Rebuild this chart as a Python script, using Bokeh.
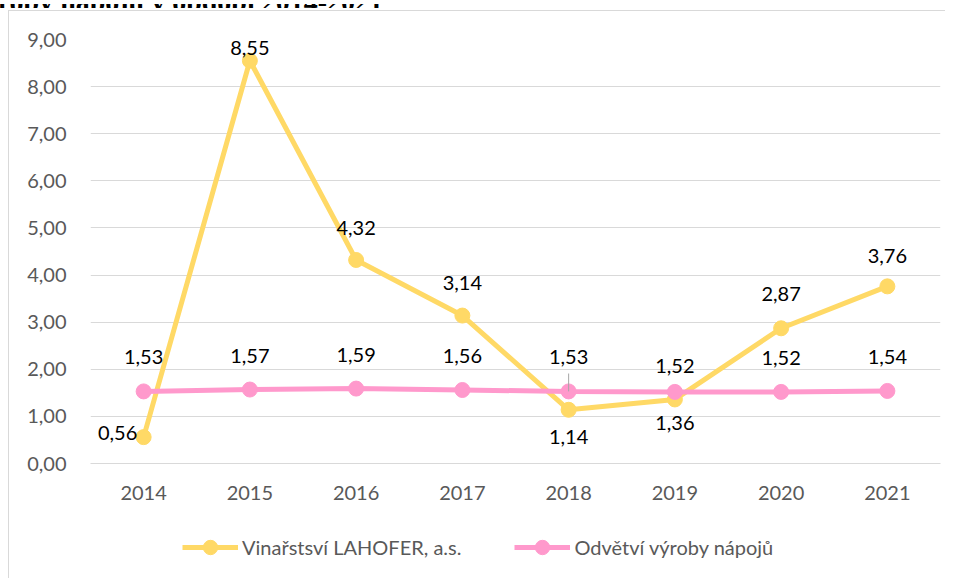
from bokeh.plotting import figure
from bokeh.layouts import column
from bokeh.models import (ColumnDataSource, FactorRange, Range1d, CustomJSTickFormatter,
                          FixedTicker, Legend, LegendItem, Div)
from bokeh.core.properties import value
from bokeh.embed import file_html
from bokeh.resources import INLINE

years = ["2014", "2015", "2016", "2017", "2018", "2019", "2020", "2021"]
lahofer = [0.56, 8.55, 4.32, 3.14, 1.14, 1.36, 2.87, 3.76]
odvetvi = [1.53, 1.57, 1.59, 1.56, 1.53, 1.52, 1.52, 1.54]
name_lahofer = "Vinařstsví LAHOFER, a.s."
name_odvetvi = "Odvětví výroby nápojů"
title_text = "výroby nápojů v období 2014-2021"
y_ticks = [0, 1, 2, 3, 4, 5, 6, 7, 8, 9]

YELLOW = "#FFD966"
PINK = "#FF99CC"
FONT = "Lato"
BORDER = "1px solid #D9D9D9"

def fmt(v):
    return f"{v:.2f}".replace(".", ",")

# label offsets (screen px): negative = up
lah_dx = [-26, 0, 0, 0, 0, 0, 0, 0]
lah_dy = [-4, -13, -32, -33, 27, 24, -34, -30]
odv_dx = [0, 0, 0, 0, 0, 0, 0, 0]
odv_dy = [-34, -34, -34, -34, -34, -26, -34, -34]

src_l = ColumnDataSource(dict(x=years, y=lahofer, t=[fmt(v) for v in lahofer], dx=lah_dx, dy=lah_dy))
src_o = ColumnDataSource(dict(x=years, y=odvetvi, t=[fmt(v) for v in odvetvi], dx=odv_dx, dy=odv_dy))

# clipped document title above the chart box (only its lower edge is visible)
title_div = Div(
    text=('<div style="position:relative;width:383px;height:8px;overflow:hidden;">'
          '<span style="position:absolute;right:0;top:-16px;white-space:nowrap;'
          'font-family:\'Liberation Serif\';font-weight:bold;font-size:28px;'
          'line-height:28px;color:black;">' + title_text + '</span></div>'),
    width=400, height=8, margin=0, styles={"overflow": "hidden"})

# ---- main chart ----
p = figure(frame_width=849, frame_height=423, x_range=FactorRange(*years, range_padding=0),
           y_range=Range1d(0, 9), output_backend="svg", toolbar_location=None,
           min_border_left=81, min_border_right=6, min_border_top=28, min_border_bottom=60)
p.margin = (2, 0, 0, 8)
p.styles = {"border-left": BORDER, "border-top": BORDER}
p.outline_line_color = None
p.background_fill_color = "white"
p.border_fill_color = "white"

p.xgrid.grid_line_color = None
p.ygrid.grid_line_color = "#D9D9D9"
p.ygrid.grid_line_width = 1

p.yaxis.ticker = FixedTicker(ticks=y_ticks)
p.yaxis.formatter = CustomJSTickFormatter(code="return tick.toFixed(2).replace('.', ',');")
for ax in (p.xaxis[0], p.yaxis[0]):
    ax.axis_line_color = None
    ax.major_tick_line_color = None
    ax.minor_tick_line_color = None
    ax.major_label_text_font = FONT
    ax.major_label_text_font_size = "20px"
    ax.major_label_text_color = "#595959"
p.xaxis.axis_line_color = "#D9D9D9"
p.yaxis.major_label_standoff = 18
p.xaxis.major_label_standoff = 16

p.line("x", "y", source=src_l, line_color=YELLOW, line_width=5)
p.scatter("x", "y", source=src_l, size=15, fill_color=YELLOW, line_color=YELLOW)
p.line("x", "y", source=src_o, line_color=PINK, line_width=5)
p.scatter("x", "y", source=src_o, size=15, fill_color=PINK, line_color=PINK)

# leader line for 2018 industry label
p.segment(x0=[years[4]], y0=[odvetvi[4]], x1=[years[4]], y1=[odvetvi[4] + 0.38],
          line_color="#A6A6A6", line_width=1)

for src in (src_l, src_o):
    p.text("x", "y", text="t", source=src, x_offset="dx", y_offset="dy",
           text_align="center", text_baseline="middle",
           text_font=value(FONT), text_font_size="20px", text_color="black")

# ---- legend strip below the chart (legend keys only; their point lies off-range) ----
p2 = figure(width=936, height=56, x_range=Range1d(0, 1), y_range=Range1d(0, 1),
            output_backend="svg", toolbar_location=None,
            min_border_left=0, min_border_right=0, min_border_top=0, min_border_bottom=0)
p2.margin = (0, 0, 0, 8)
p2.styles = {"border-left": BORDER}
p2.xaxis.visible = False
p2.yaxis.visible = False
p2.xgrid.visible = False
p2.ygrid.visible = False
p2.outline_line_color = None
p2.background_fill_color = "white"
p2.border_fill_color = "white"

key_x = [-5]
key_y = [-5]
k1l = p2.line(x=key_x, y=key_y, line_color=YELLOW, line_width=5)
k1s = p2.scatter(x=key_x, y=key_y, size=15, fill_color=YELLOW, line_color=YELLOW)
k2l = p2.line(x=key_x, y=key_y, line_color=PINK, line_width=5)
k2s = p2.scatter(x=key_x, y=key_y, size=15, fill_color=PINK, line_color=PINK)

legend = Legend(items=[LegendItem(label=name_lahofer, renderers=[k1l, k1s], index=0),
                       LegendItem(label=name_odvetvi, renderers=[k2l, k2s], index=0)],
                orientation="horizontal", location=(92, 13))
legend.label_text_font = FONT
legend.label_text_font_size = "20px"
legend.label_text_color = "#595959"
legend.glyph_width = 56
legend.glyph_height = 36
legend.label_height = 20
legend.label_standoff = 4
legend.spacing = 53
legend.padding = 0
legend.margin = 0
legend.border_line_color = None
legend.background_fill_alpha = 0
p2.add_layout(legend, "center")

layout = column(title_div, p, p2, spacing=0)
open("out.html", "w").write(file_html(layout, INLINE))
